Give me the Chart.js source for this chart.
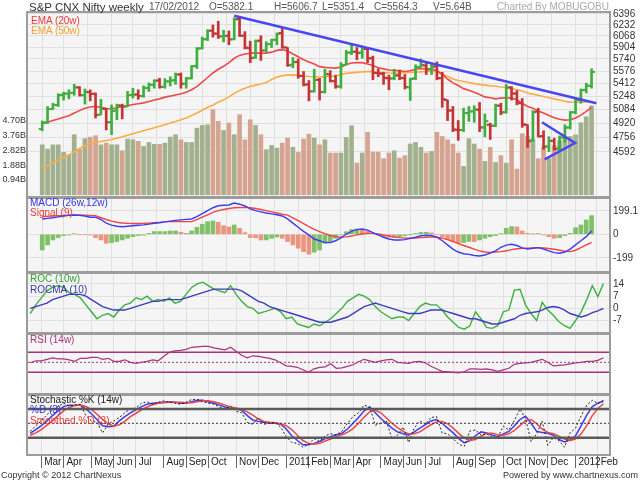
<!DOCTYPE html>
<html>
<head>
<meta charset="utf-8">
<script src="https://cdn.jsdelivr.net/npm/chart.js@4.4.1/dist/chart.umd.min.js"></script>
<style>
body { margin: 0; background: #fff; font-family: "Liberation Sans", Arial, sans-serif; }
#wrap { position: relative; width: 640px; height: 480px; overflow: hidden; background: #fff; }
canvas { position: absolute; left: 0; top: 0; }
.t { position: absolute; white-space: nowrap; font-size: 10px; line-height: 10px; }
</style>
</head>
<body>
<div id="wrap">
  <canvas id="cMain" width="640" height="480"></canvas>
  <canvas id="cMacd" width="640" height="480"></canvas>
  <canvas id="cRoc" width="640" height="480"></canvas>
  <canvas id="cRsi" width="640" height="480"></canvas>
  <canvas id="cSto" width="640" height="480"></canvas>

  <div class="t" style="left:29px;top:1px;font-size:11.5px;line-height:12px;color:#333">S&amp;P CNX Nifty weekly</div>
  <div class="t" style="left:149px;top:2px;color:#555">17/02/2012</div>
  <div class="t" style="left:209px;top:2px;color:#555">O=5382.1</div>
  <div class="t" style="left:274px;top:2px;color:#555">H=5606.7</div>
  <div class="t" style="left:322px;top:2px;color:#555">L=5351.4</div>
  <div class="t" style="left:374px;top:2px;color:#555">C=5564.3</div>
  <div class="t" style="left:433px;top:2px;color:#555">V=5.64B</div>
  <div class="t" style="right:31px;top:2px;color:#aaa">Charted By MOBUGOBU</div>

  <div class="t" style="left:31px;top:16px;color:#e83a3a">EMA (20w)</div>
  <div class="t" style="left:31px;top:26px;color:#f5a030">EMA (50w)</div>
  <div class="t" style="left:30px;top:198px;color:#3434e0">MACD (26w,12w)</div>
  <div class="t" style="left:30px;top:208px;color:#e83a3a">Signal (9)</div>
  <div class="t" style="left:30px;top:274px;color:#2f9e2f">ROC (10w)</div>
  <div class="t" style="left:30px;top:285px;color:#3434b0">ROCMA (10)</div>
  <div class="t" style="left:30px;top:335px;color:#a8357a">RSI (14w)</div>
  <div class="t" style="left:30px;top:395px;color:#222">Stochastic %K (14w)</div>
  <div class="t" style="left:30px;top:405px;color:#3434e0">%D (3)</div>
  <div class="t" style="left:30px;top:416px;color:#e83a3a">Smoothed %D (3)</div>

  <div class="t" style="left:1px;top:470px;font-size:9px;color:#333">Copyright © 2012 ChartNexus</div>
  <div class="t" style="right:2px;top:470px;font-size:9px;color:#333">Powered by www.chartnexus.com</div>
</div>
<script>
// weekly bars, 26 Feb 2010 .. 17 Feb 2012
const opens = [4850,4930,5090,5140,5265,5280,5290,5360,5262,5300,5280,5020,5090,4930,5070,5130,5120,5265,5270,5250,
  5355,5395,5450,5370,5440,5455,5530,5410,5480,5645,5890,6020,6145,6100,6060,6070,6020,6320,6070,5890,
  5760,6000,5860,5950,6010,6110,5900,5660,5700,5510,5400,5310,5460,5300,5530,5440,5370,5660,5830,5840,
  5830,5880,5750,5550,5540,5480,5480,5520,5480,5360,5480,5630,5650,5600,5640,5480,5200,5070,4840,4840,
  5040,5060,5080,4870,4900,4890,5130,5050,5360,5280,5160,4900,4720,5060,4770,4650,4715,4630,4750,4870,
  5050,5200,5330,5382.1];
const highs = [4945,5120,5160,5280,5300,5330,5400,5370,5340,5330,5290,5210,5100,5140,5150,5150,5310,5350,5330,5380,
  5420,5460,5480,5475,5500,5550,5550,5490,5650,5900,6050,6160,6230,6285,6150,6140,6338,6335,6130,5990,
  6010,6070,5985,6020,6110,6181,5900,5760,5740,5570,5450,5600,5480,5600,5580,5520,5690,5860,5945,5900,
  5920,5890,5780,5605,5560,5520,5600,5590,5530,5480,5660,5740,5690,5680,5700,5560,5200,5120,4950,5100,
  5120,5130,5170,5030,4920,5150,5160,5400,5370,5320,5220,4900,5070,5099,4830,4762,4745,4770,4900,5060,
  5217,5340,5415,5606.7];
const lows = [4830,4915,5085,5120,5200,5215,5260,5250,5150,5190,4980,5020,4840,4786,4960,4970,5120,5225,5210,5235,
  5310,5350,5350,5350,5380,5400,5350,5350,5470,5610,5880,6000,6050,6030,5980,5940,6010,6060,5880,5690,
  5750,5720,5830,5900,5940,5890,5640,5620,5480,5380,5190,5300,5200,5290,5430,5350,5350,5660,5800,5730,
  5750,5690,5460,5500,5400,5330,5460,5460,5340,5195,5460,5630,5530,5530,5460,5110,4950,4820,4720,4820,
  4940,4930,4820,4760,4730,4880,5020,5040,5200,5140,4870,4640,4710,4760,4620,4594,4610,4590,4700,4850,
  5030,5160,5290,5351.4];
const closes = [4922,5088,5137,5262,5282,5290,5361,5262,5304,5278,5018,5094,4931,5066,5135,5119,5262,5269,5251,5352,
  5393,5449,5367,5439,5452,5530,5408,5479,5640,5884,6018,6143,6103,6062,6066,6017,6312,6071,5900,5752,
  5992,5857,5948,6011,6100,5904,5654,5696,5512,5396,5310,5458,5303,5538,5445,5373,5654,5826,5842,5824,
  5884,5749,5552,5544,5486,5476,5516,5485,5366,5471,5627,5660,5599,5633,5482,5211,5072,4845,4839,5040,
  5059,5084,4868,4943,4888,5132,5049,5360,5284,5168,4905,4710,5050,4764,4651,4714,4624,4754,4867,5049,
  5205,5326,5382,5564.3];
// volume in billions
const volumes = [3.17,2.90,3.17,3.17,2.69,2.54,3.81,2.90,3.56,3.66,3.75,3.17,3.28,3.17,3.17,2.79,3.53,3.49,3.39,3.07,
  3.32,3.20,3.20,3.28,3.66,3.81,3.49,3.32,3.32,4.23,4.40,4.44,5.40,4.66,4.08,4.55,3.81,5.08,3.49,4.76,
  4.40,3.81,2.86,3.13,2.96,3.28,3.60,3.01,2.69,3.53,3.85,3.60,3.17,3.49,2.65,2.65,2.65,3.64,4.38,2.01,
  2.65,3.96,2.71,2.71,2.29,2.65,2.79,2.33,2.48,3.22,3.32,3.01,2.65,2.75,3.96,3.70,3.49,3.22,2.65,1.80,
  3.56,3.22,2.90,2.12,3.01,2.05,2.48,2.01,3.49,1.63,3.87,3.70,3.53,2.29,3.01,2.29,3.11,3.43,3.50,3.70,
  3.80,4.57,4.95,5.64];
const ema20 = [4911,4930,4950,4970,4990,5007,5040,5070,5100,5115,5120,5110,5095,5092,5105,5120,5130,5145,5155,5165,
  5182,5200,5215,5237,5250,5265,5279,5300,5330,5370,5430,5490,5550,5600,5640,5690,5750,5790,5810,5820,
  5825,5820,5822,5835,5860,5870,5850,5810,5770,5730,5700,5670,5635,5625,5620,5615,5630,5665,5685,5690,
  5690,5670,5650,5620,5605,5590,5585,5580,5570,5580,5600,5610,5605,5605,5580,5530,5470,5420,5385,5345,
  5325,5300,5270,5240,5230,5215,5225,5230,5225,5205,5160,5120,5100,5065,5040,5010,4985,4965,4955,4960,
  4980,5015,5060,5110];
const ema50 = [4418,4440,4470,4500,4525,4556,4590,4630,4660,4685,4695,4707,4718,4730,4745,4760,4778,4795,4812,4830,
  4849,4866,4883,4900,4920,4940,4959,4980,5010,5040,5075,5110,5140,5172,5203,5240,5285,5320,5350,5372,
  5390,5406,5425,5465,5495,5515,5522,5525,5518,5510,5503,5500,5497,5500,5503,5510,5530,5545,5552,5558,
  5565,5569,5566,5560,5555,5550,5547,5550,5553,5556,5560,5565,5569,5570,5569,5540,5505,5470,5450,5437,
  5425,5410,5400,5390,5381,5375,5366,5360,5345,5330,5315,5290,5275,5260,5245,5230,5215,5200,5185,5175,
  5172,5174,5178,5182];
// hand drawn trend lines: [week index, price]
const trendX = [36, 103.9];
const trendY = [6370, 5160];
const triX = [93.7, 99.9, 94.2];
const triY = [4930, 4690, 4510];

const macd = [130,135,140,148,155,160,163,160,155,145,145,125,95,78,68,64,68,72,76,80,
  86,93,98,105,112,118,122,126,130,150,175,200,225,242,246,248,265,255,240,215,
  200,190,180,173,166,155,130,95,60,25,-5,-40,-55,-70,-70,-55,-30,0,25,40,
  45,35,15,-5,-25,-40,-48,-48,-45,-35,-25,-12,-8,-10,-25,-55,-90,-125,-150,-165,
  -170,-180,-184,-175,-160,-140,-110,-92,-85,-95,-115,-124,-118,-113,-125,-140,-155,-161,-150,-125,
  -90,-55,-20,28];
const signal = [150,152,155,158,160,162,163,163,162,160,158,140,125,112,102,96,93,92,92,93,
  95,98,101,105,107,107,107,107,107,125,145,165,185,200,210,218,225,227,228,225,
  218,210,200,190,180,170,163,140,115,90,65,42,22,5,-10,-20,-25,-22,-15,-5,
  3,8,8,3,-5,-15,-22,-28,-32,-33,-32,-28,-25,-22,-25,-33,-45,-60,-78,-95,
  -110,-125,-140,-150,-153,-150,-147,-140,-130,-122,-119,-117,-115,-113,-115,-120,-127,-135,-143,-147,
  -135,-113,-90,-68];
const macdHist = [-133,-90,-48,-28,-11,-6,3,-2,-3,-6,-28,-48,-76,-70,-62,-48,-34,-20,-11,-8,
  8,23,23,23,28,28,17,8,28,59,85,107,113,102,73,62,79,51,14,-28,
  -30,-48,-48,-34,-23,-34,-62,-90,-118,-147,-169,-152,-133,-75,-60,-35,-5,22,40,45,
  42,27,7,-8,-20,-25,-26,-20,-13,-2,7,16,17,12,0,-22,-45,-65,-72,-70,
  -60,-62,-48,-34,-20,-11,6,51,65,62,28,8,3,6,-6,-20,-34,-28,-11,8,
  56,79,121,158];
const roc = [-3,2,6,10,12,13,12,9,8,6,2,-2,-6,-4,-3,-5,-1,2,3,6,
  5,7,4,5,4,6,3,4,8,12,14,15,13,11,10,9,13,8,4,1,
  0,-3,-2,-1,0,-2,-6,-5,-9,-10,-11,-9,-10,-8,-6,-3,0,4,6,8,
  7,5,1,-2,-4,-6,-5,-5,-7,-3,1,3,2,2,-1,-5,-8,-11,-12,-10,
  -2,-6,-11,-11.5,-10,-2,-1,10.5,10.9,2,-3,-7,3.4,-1,-4,-7.7,-10,-11.5,-7,-2,
  5,13,6.7,14.3];
const rocma = [0,1,2,3,5,6,7,8,8,8,7,5,3,1,0,-1,-1,-1,0,1,
  2,3,4,4,5,5,5,5,6,7,8,9,10,11,11,11,11,11,10,8,
  6,4,3,1,0,-1,-2,-3,-4,-5,-6,-7,-8,-8,-8,-7,-6,-5,-3,-1,
  1,2,3,2,1,0,-1,-2,-3,-3,-3,-2,-1,-1,-1,-2,-3,-4,-5,-6,
  -6,-7,-8,-9,-9,-8,-7,-6,-4,-3,-2.5,-2,-1,0.5,1,0.5,-1,-3,-4,-5,
  -4,-2.5,-1.5,0];
const rsi = [49,53,53,56,59,57,57,55,52,58,58,60,60,56,58,52,52,55,50,48,
  50,52,55,53,62,70,73,74,76,80,81,82,82,79,77,75,80,72,64,59,
  63,62,60,58,55,49,43,42,40,35,30,37,40,41,47,38,39,42,45,51,
  56,53,50,53,55,56,50,49,48,51,52,49,42,37,32,31,30,29,31,37,
  37,36,37,35,32,35,38,46,48,49,50,53,56,50,43,44,45,47,49,50,
  52,52,54,59];
const stochK = [33,45,55,68,78,85,92,86,88,90,66,55,52,30,48,55,62,72,80,82,
  92,95,90,94,97,94,92,90,94,100,100,95,92,90,84,80,86,75,72,52,
  48,62,48,50,52,42,22,10,8,0,6,18,12,24,28,26,33,50,64,72,
  88,84,46,50,55,18,25,42,10,40,55,48,62,64,30,28,18,6,2,34,
  36,26,28,20,20,44,36,56,80,60,12,28,54,4,20,14,0,30,40,66,
  88,98,92,98];
const stochD = [29,37,45,55,66,76,85,88,88,88,80,70,58,45,43,44,55,64,72,78,
  85,90,92,93,94,95,94,92,92,95,98,98,95,92,88,84,81,80,77,66,
  57,54,52,50,50,48,38,24,14,5,5,8,12,18,22,26,29,38,50,62,
  76,84,72,60,50,40,32,28,25,32,40,47,55,58,50,40,30,18,9,14,
  24,32,30,25,22,28,33,45,58,65,50,33,31,29,25,16,11,15,24,45,
  67,85,92,96];
const stochS = [25,30,37,46,55,66,76,83,87,88,85,79,69,58,49,44,47,54,64,71,
  78,84,89,92,93,94,94,94,93,93,95,97,97,95,92,88,84,82,79,74,
  67,59,54,52,51,49,45,37,25,14,8,6,8,13,17,22,26,31,39,50,
  63,74,77,72,61,50,41,33,28,28,32,40,47,53,54,49,40,29,19,14,
  16,23,29,29,26,25,28,35,45,56,58,49,38,31,28,23,17,14,17,28,
  45,66,81,91];

// axis ticks / labels
const monthTicks = [2,6,11,15,19,24,28,32,37,41,46,50,54,58,63,67,71,76,80,85,89,93,98,102];
const monthLabels = ['Mar','Apr','May','Jun','Jul','Aug','Sep','Oct','Nov','Dec','2011','Feb',
  'Mar','Apr','May','Jun','Jul','Aug','Sep','Oct','Nov','Dec','2012','Feb'];
const priceTicks = [4592,4756,4920,5084,5248,5412,5576,5740,5904,6068,6232,6396];
const volTicks = [0.94,1.88,2.82,3.76,4.70];
const macdTicks = [199.1,0,-199];
const rocTicks = [14,7,0,-7];
const rsiLevels = [70,30];
const stochLevels = [80,20];

const X_MIN = -0.4, X_MAX = 104;
Chart.defaults.font.family = "'Liberation Sans', Arial, sans-serif";
Chart.defaults.font.size = 10;
Chart.defaults.color = '#333';

const panelPlugin = {
  id: 'panel',
  beforeDraw(chart) {
    const a = chart.chartArea, c = chart.ctx;
    c.save();
    c.fillStyle = '#f5f5f5';
    c.fillRect(a.left, a.top, a.right - a.left, a.bottom - a.top);
    c.restore();
  },
  afterDraw(chart) {
    const a = chart.chartArea, c = chart.ctx;
    c.save();
    c.strokeStyle = '#9c9c9c';
    c.lineWidth = 2;
    c.strokeRect(a.left - 1, a.top - 1, a.right - a.left + 2, a.bottom - a.top + 2);
    c.restore();
  }
};

function xAxis(showLabels) {
  return {
    type: 'linear', min: X_MIN, max: X_MAX,
    afterBuildTicks: s => { s.ticks = monthTicks.map(v => ({ value: v })); },
    afterFit: s => { s.height = showLabels ? 14 : 0; },
    border: { display: false },
    grid: { color: '#e0e0e0', drawTicks: showLabels, tickLength: 14, tickColor: '#666' },
    ticks: { display: showLabels, autoSkip: false, maxRotation: 0, align: 'start', padding: -12,
      color: '#222', font: { size: 10 }, callback: (v, k) => ' ' + monthLabels[k] }
  };
}

function rightAxis(min, max, ticks, showLabels, showGrid, type) {
  return {
    type: type || 'linear', position: 'right', min, max,
    afterBuildTicks: s => { s.ticks = ticks.map(v => ({ value: v })); },
    afterFit: s => { s.width = 31; },
    border: { display: false },
    grid: { display: showGrid, color: '#e0e0e0', drawTicks: false },
    ticks: { display: showLabels, padding: 4, color: '#333', font: { size: 10 }, callback: v => String(v) }
  };
}

function panel(id, top, bottom, yScales, datasets, showX) {
  const scales = Object.assign({ x: xAxis(showX) }, yScales);
  const hasLeft = Object.values(yScales).some(s => s.position === 'left');
  return new Chart(document.getElementById(id), {
    data: { datasets },
    options: {
      responsive: false, animation: false, events: [],
      layout: { padding: { top, bottom: 480 - bottom - (showX ? 14 : 0), left: hasLeft ? 0 : 28, right: 0 } },
      plugins: { legend: { display: false }, tooltip: { enabled: false } },
      scales
    },
    plugins: [panelPlugin]
  });
}

const pts = (arr, off) => arr.map((v, i) => ({ x: i + (off || 0), y: v }));
function lineDs(arr, color, width, yID, extra) {
  return Object.assign({ type: 'line', data: pts(arr), yAxisID: yID, borderColor: color, borderWidth: width,
    pointRadius: 0, fill: false, tension: 0 }, extra || {});
}
function levelDs(level, color, width, yID, dash) {
  return { type: 'line', data: [{ x: X_MIN, y: level }, { x: X_MAX, y: level }], yAxisID: yID,
    borderColor: color, borderWidth: width, borderDash: dash || [], pointRadius: 0 };
}

const UP = '#3fae3f', DOWN = '#c43434';
const up = closes.map((c, i) => c >= (i ? closes[i - 1] : opens[0]));
const barCol = up.map(u => u ? UP : DOWN);
const volCol = up.map(u => u ? '#a2b08e' : '#d5a491');
const histCol = macdHist.map((h, i) => (i === 0 || h >= macdHist[i - 1]) ? '#80c068' : '#eb9580');

// main panel: price + volume
panel('cMain', 13, 196, {
  price: rightAxis(4129, 6411, priceTicks, true, true, 'logarithmic'),
  vol: { type: 'linear', position: 'left', min: -0.076, max: 11.53,
    afterBuildTicks: s => { s.ticks = volTicks.map(v => ({ value: v })); },
    afterFit: s => { s.width = 28; },
    border: { display: false }, grid: { display: false, drawTicks: false },
    ticks: { padding: 2, color: '#333', font: { size: 9 }, callback: v => v.toFixed(2) + 'B' } }
}, [
  { type: 'bar', yAxisID: 'vol', grouped: false, barThickness: 4, order: 10,
    data: pts(volumes), backgroundColor: volCol },
  lineDs(ema50, '#ffac45', 1.6, 'price', { order: 6 }),
  lineDs(ema20, '#f04848', 1.6, 'price', { order: 5 }),
  { type: 'bar', yAxisID: 'price', grouped: false, barThickness: 2, order: 3,
    data: highs.map((h, i) => ({ x: i, y: [lows[i], h] })), backgroundColor: barCol },
  { type: 'line', yAxisID: 'price', showLine: false, order: 2, data: pts(opens, -0.32),
    pointStyle: 'line', pointRadius: 1.8, pointBorderWidth: 2, pointBorderColor: barCol },
  { type: 'line', yAxisID: 'price', showLine: false, order: 2, data: pts(closes, 0.32),
    pointStyle: 'line', pointRadius: 1.8, pointBorderWidth: 2, pointBorderColor: barCol },
  { type: 'line', yAxisID: 'price', order: 1, data: trendX.map((x, k) => ({ x, y: trendY[k] })),
    borderColor: '#4848f0', borderWidth: 2.5, pointRadius: 0 },
  { type: 'line', yAxisID: 'price', order: 1, data: triX.map((x, k) => ({ x, y: triY[k] })),
    borderColor: '#4848f0', borderWidth: 2.5, pointRadius: 0 }
], false);

// MACD
panel('cMacd', 199, 271, { y: rightAxis(-311, 299, macdTicks, true, true) }, [
  { type: 'bar', yAxisID: 'y', barThickness: 4, order: 5, data: pts(macdHist), backgroundColor: histCol },
  lineDs(signal, '#f04545', 1.4, 'y', { order: 2 }),
  lineDs(macd, '#3c3cf0', 1.4, 'y', { order: 1 })
], false);

// ROC
panel('cRoc', 274, 332, { y: rightAxis(-13.6, 19.7, rocTicks, true, true) }, [
  lineDs(rocma, '#3c3cc0', 1.4, 'y'),
  lineDs(roc, '#3cb03c', 1.4, 'y')
], false);

// RSI
panel('cRsi', 335, 393, { y: rightAxis(-11.4, 104.6, [], false, false) }, [
  ...rsiLevels.map(l => levelDs(l, '#a8357a', 1.6, 'y')),
  levelDs(50, '#a8357a', 1, 'y', [2, 2]),
  lineDs(rsi, '#a8357a', 1.2, 'y')
], false);

// Stochastic
panel('cSto', 396, 454, { y: rightAxis(-14.2, 107.1, [], false, false) }, [
  ...stochLevels.map(l => levelDs(l, '#5a5a5a', 2.5, 'y')),
  levelDs(50, '#333', 1, 'y', [2, 2]),
  lineDs(stochK, '#222', 1, 'y', { borderDash: [2, 2] }),
  lineDs(stochS, '#f04545', 1.5, 'y'),
  lineDs(stochD, '#3c3cf0', 1.5, 'y')
], true);
</script>
</body>
</html>
